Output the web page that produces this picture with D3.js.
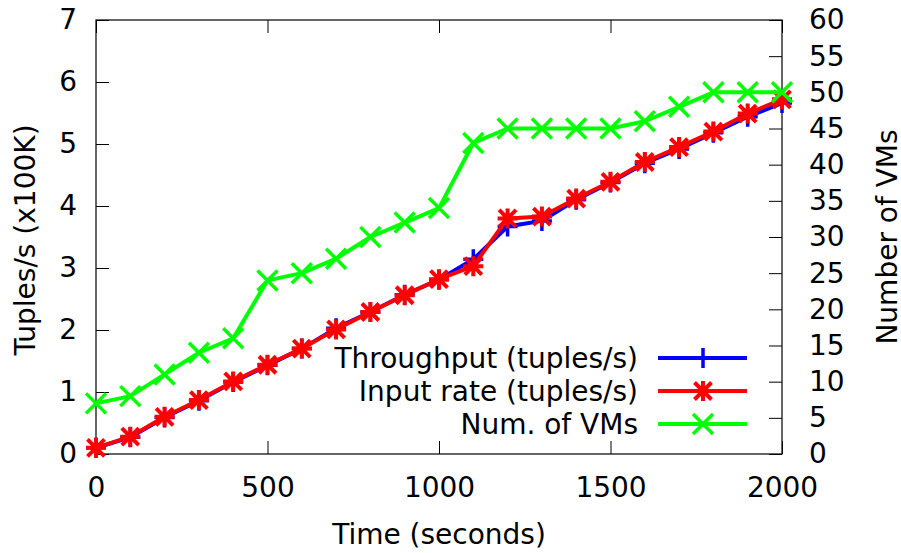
<!DOCTYPE html>
<html>
<head>
<meta charset="utf-8">
<script src="https://cdn.jsdelivr.net/npm/d3@7"></script>
<style>
  body { margin: 0; background: #fff; }
  text { font-family: "DejaVu Sans", sans-serif; fill: #000; }
</style>
</head>
<body>
<div id="chart-area"></div>
<script>
// data
var times = [0, 100, 200, 300, 400, 500, 600, 700, 800, 900, 1000,
             1100, 1200, 1300, 1400, 1500, 1600, 1700, 1800, 1900, 2000];
var throughput = [0.1, 0.27, 0.59, 0.86, 1.16, 1.43, 1.7, 2.03, 2.29, 2.57, 2.81,
                  3.14, 3.67, 3.76, 4.1, 4.38, 4.69, 4.92, 5.18, 5.44, 5.66];
var inputRate = [0.1, 0.28, 0.6, 0.87, 1.17, 1.44, 1.7, 2.01, 2.29, 2.56, 2.82,
                 3.03, 3.8, 3.83, 4.12, 4.39, 4.71, 4.95, 5.2, 5.49, 5.72];
var numVMs = [7, 8, 11, 14, 16, 24, 25, 27, 30, 32, 34,
              43, 45, 45, 45, 45, 46, 48, 50, 50, 50];
var xTicks = [0, 500, 1000, 1500, 2000];
var yTicks = [0, 1, 2, 3, 4, 5, 6, 7];
var y2Ticks = [0, 5, 10, 15, 20, 25, 30, 35, 40, 45, 50, 55, 60];
var seriesNames = ["Throughput (tuples/s)", "Input rate (tuples/s)", "Num. of VMs"];

var W = 901, H = 553;
var margin = {top: 20, right: 119, bottom: 99, left: 96};
var width = W - margin.left - margin.right;
var height = H - margin.top - margin.bottom;
var fs = "28px";
var fmt = d3.format("d");

var svg = d3.select("#chart-area").append("svg")
    .attr("width", W)
    .attr("height", H);

var g = svg.append("g")
    .attr("transform", "translate(" + margin.left + "," + margin.top + ")");

var x = d3.scaleLinear().domain([0, 2000]).range([0, width]);
var y = d3.scaleLinear().domain([0, 7]).range([height, 0]);
var y2 = d3.scaleLinear().domain([0, 60]).range([height, 0]);

function styleAxis(sel) {
  sel.select(".domain").remove();
  sel.selectAll(".tick line").attr("stroke", "#000").attr("stroke-width", 1);
  sel.selectAll("text").attr("font-size", fs).attr("font-family", "DejaVu Sans").attr("fill", "#000");
}

g.append("g")
    .attr("transform", "translate(0," + height + ")")
    .call(d3.axisBottom(x).tickValues(xTicks).tickFormat(fmt).tickSize(-13).tickPadding(23))
    .call(styleAxis);

g.append("g")
    .call(d3.axisTop(x).tickValues(xTicks).tickSize(-13).tickFormat(""))
    .call(styleAxis);

g.append("g")
    .call(d3.axisLeft(y).tickValues(yTicks).tickFormat(fmt).tickSize(-13).tickPadding(19))
    .call(styleAxis);

g.append("g")
    .attr("transform", "translate(" + width + ",0)")
    .call(d3.axisRight(y2).tickValues(y2Ticks).tickFormat(fmt).tickSize(-13).tickPadding(27))
    .call(styleAxis);

// border
g.append("rect")
    .attr("x", 0).attr("y", 0)
    .attr("width", width).attr("height", height)
    .attr("fill", "none")
    .attr("stroke", "#000")
    .attr("stroke-width", 1.2);

// axis titles
g.append("text")
    .attr("x", width / 2)
    .attr("y", height + 90)
    .attr("text-anchor", "middle")
    .attr("font-size", fs)
    .text("Time (seconds)");

g.append("text")
    .attr("transform", "translate(" + (35 - margin.left) + "," + (height / 2 + 3) + ") rotate(-90)")
    .attr("text-anchor", "middle")
    .attr("font-size", fs)
    .text("Tuples/s (x100K)");

g.append("text")
    .attr("transform", "translate(" + (897 - margin.left) + "," + (height / 2) + ") rotate(-90)")
    .attr("text-anchor", "middle")
    .attr("font-size", fs)
    .text("Number of VMs");

// markers
var S = 10;
function plusPath(cx, cy) {
  return "M" + (cx - S) + "," + cy + "H" + (cx + S) + "M" + cx + "," + (cy - S) + "V" + (cy + S);
}
function crossPath(cx, cy) {
  return "M" + (cx - S) + "," + (cy - S) + "L" + (cx + S) + "," + (cy + S) +
         "M" + (cx - S) + "," + (cy + S) + "L" + (cx + S) + "," + (cy - S);
}
function starPath(cx, cy) {
  var d = S * 0.85;
  return plusPath(cx, cy) + "M" + (cx - d) + "," + (cy - d) + "L" + (cx + d) + "," + (cy + d) +
         "M" + (cx - d) + "," + (cy + d) + "L" + (cx + d) + "," + (cy - d);
}

var series = [
  {name: seriesNames[0], values: throughput, scale: y, color: "#0000ff", marker: plusPath, mw: 3.5},
  {name: seriesNames[1], values: inputRate, scale: y, color: "#ff0000", marker: starPath, mw: 4},
  {name: seriesNames[2], values: numVMs, scale: y2, color: "#00ff00", marker: crossPath, mw: 3.5}
];

series.forEach(function(s) {
  var line = d3.line()
      .x(function(d, i) { return x(times[i]); })
      .y(function(d) { return s.scale(d); });

  g.append("path")
      .datum(s.values)
      .attr("fill", "none")
      .attr("stroke", s.color)
      .attr("stroke-width", 4)
      .attr("stroke-linejoin", "round")
      .attr("d", line);

  g.selectAll(null)
      .data(s.values)
      .enter()
      .append("path")
      .attr("fill", "none")
      .attr("stroke", s.color)
      .attr("stroke-width", s.mw)
      .attr("d", function(d, i) { return s.marker(x(times[i]), s.scale(d)); });
});

// legend
var legX = 638 - margin.left;
var legY = [358, 391, 424];
series.forEach(function(s, i) {
  var ly = legY[i] - margin.top;
  g.append("text")
      .attr("x", legX)
      .attr("y", ly)
      .attr("dy", "0.35em")
      .attr("text-anchor", "end")
      .attr("font-size", fs)
      .text(s.name);
  g.append("line")
      .attr("x1", 658 - margin.left).attr("x2", 747 - margin.left)
      .attr("y1", ly).attr("y2", ly)
      .attr("stroke", s.color)
      .attr("stroke-width", 4);
  g.append("path")
      .attr("fill", "none")
      .attr("stroke", s.color)
      .attr("stroke-width", s.mw)
      .attr("d", s.marker(703 - margin.left, ly));
});
</script>
</body>
</html>
